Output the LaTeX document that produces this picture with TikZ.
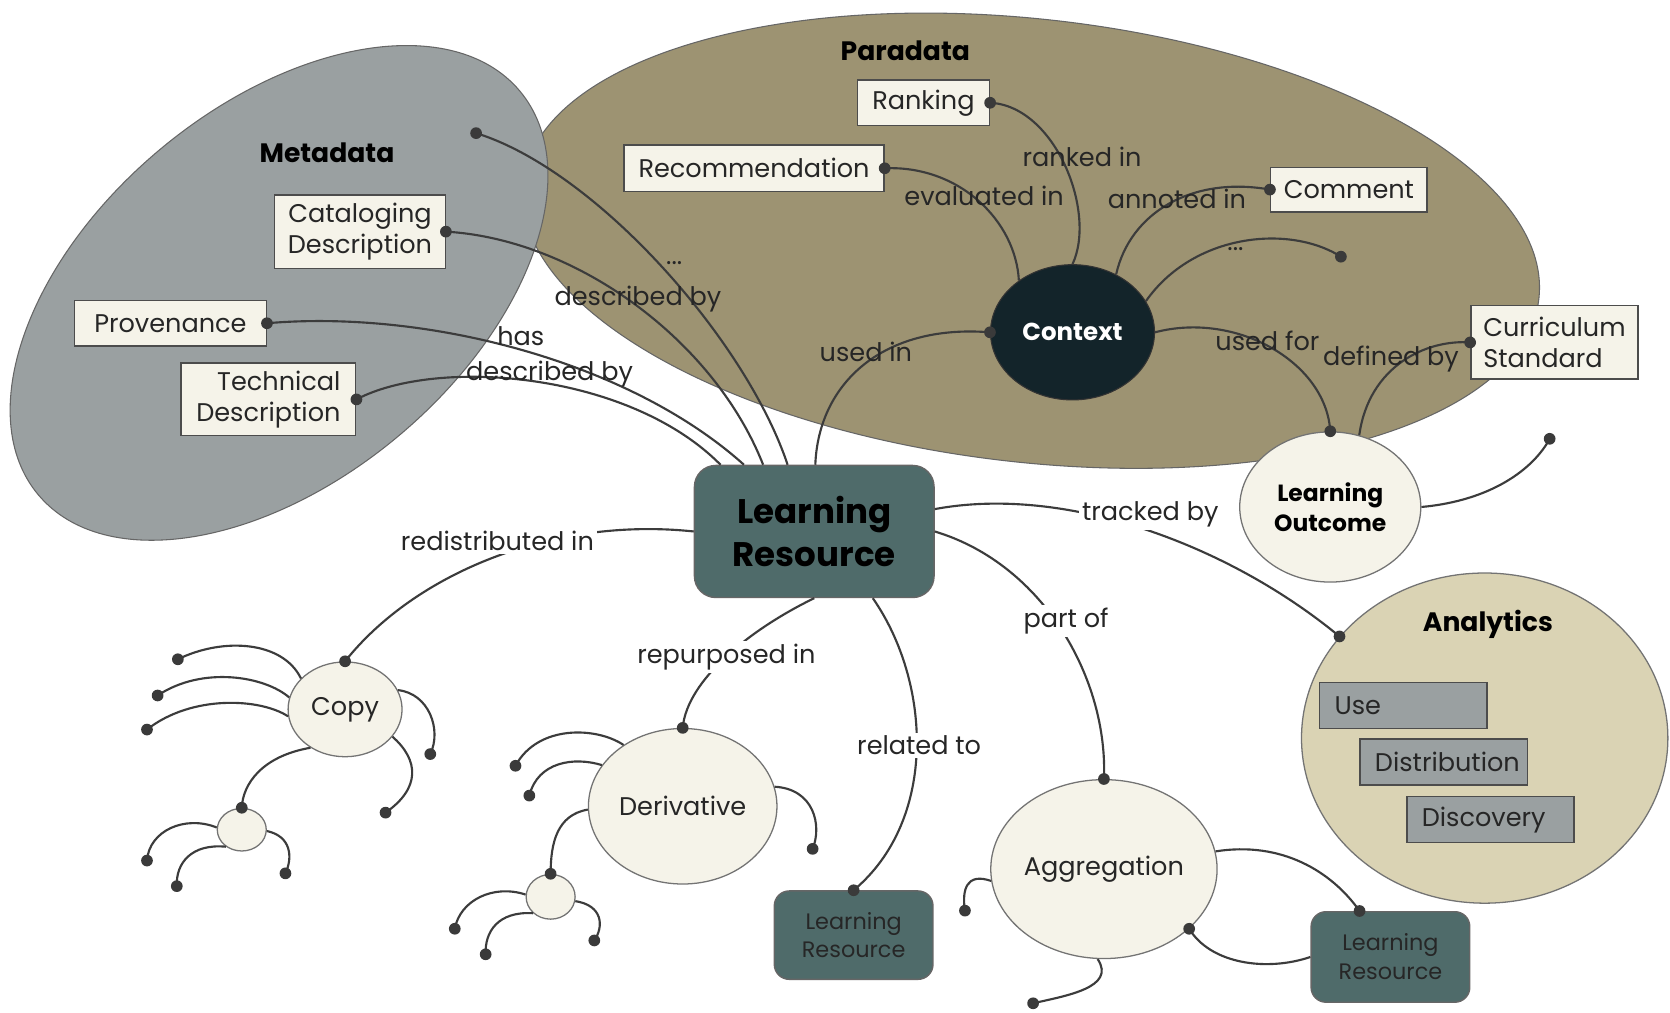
\documentclass[tikz,border=0pt]{standalone}
\usepackage{fontspec}
\setmainfont{Poppins}
\usetikzlibrary{shapes.geometric,calc}
\definecolor{metagray}{HTML}{9AA0A1}
\definecolor{paraolive}{HTML}{9D9372}
\definecolor{anabeige}{HTML}{DAD3B4}
\definecolor{cream}{HTML}{F5F3E9}
\definecolor{lrteal}{HTML}{4F6B6A}
\definecolor{ctxdark}{HTML}{13242A}
\definecolor{linec}{HTML}{3C3C3C}
\definecolor{dotc}{HTML}{3A3A3A}
\begin{document}
\begin{tikzpicture}[x=1pt,y=-1pt,
  every node/.style={font=\fontsize{24}{29}\selectfont, inner sep=0pt},
  cbox/.style={rectangle, draw=black!70, line width=1.3pt, fill=cream, text=black!85},
  gbox/.style={rectangle, draw=black!70, line width=1.3pt, fill=metagray, text=black!85, text width=129pt, inner xsep=14pt, align=left, minimum height=43pt},
  circ/.style={ellipse, draw=black!55, line width=1.2pt, fill=cream, text=black!85},
  lrbox/.style={rectangle, rounded corners=20pt, draw=black!60, line width=1.3pt, fill=lrteal},
  conn/.style={draw=linec, line width=2pt},
  lbl/.style={text=black!85},
  wlbl/.style={text=black!85, fill=white, inner sep=3pt},
  grouptitle/.style={font=\fontsize{25}{30}\selectfont\bfseries},
]
\useasboundingbox (0,0) rectangle (1568,951);
\fill[white] (0,0) rectangle (1568,951);

% group shapes
\node[ellipse, fill=paraolive, draw=black!60, line width=1pt, minimum width=960pt, minimum height=416pt, rotate=-6.5] (para) at (968,226) {};
\node[ellipse, fill=metagray, draw=black!60, line width=1pt, minimum width=590pt, minimum height=350pt, rotate=40] (meta) at (262,275) {};
\node[ellipse, fill=anabeige, draw=black!55, line width=1.2pt, minimum width=344pt, minimum height=310pt] (ana) at (1394,693) {};

\node[grouptitle] (metat) at (307,143) {Metadata};
\node[grouptitle] (parat) at (850,48) {Paradata};
\node[grouptitle] (anat) at (1397,586) {Analytics};

% boxes
\node[cbox, minimum width=160pt, minimum height=69pt, align=center] (catalog) at (338,217.5) {Cataloging\\Description};
\node[cbox, minimum width=180pt, minimum height=43pt] (prov) at (160,303.5) {Provenance};
\node[cbox, minimum width=164pt, minimum height=68pt, align=right] (tech) at (252,375) {Technical\\Description};
\node[cbox, minimum width=124pt, minimum height=43pt] (rank) at (867,96.5) {Ranking};
\node[cbox, minimum width=244pt, minimum height=44pt] (recom) at (708,158) {Recommendation};
\node[cbox, minimum width=147pt, minimum height=42pt] (comment) at (1266.5,178) {Comment};
\node[cbox, minimum width=157pt, minimum height=69pt, align=left] (curric) at (1459.5,321.5) {Curriculum\\Standard};

\node[gbox] (use) at (1317.5,662.5) {Use};
\node[gbox] (distr) at (1355.5,715.5) {Distribution};
\node[gbox] (disc) at (1399.5,769.5) {Discovery};

\node[ellipse, fill=ctxdark, draw=black!80, line width=1pt, minimum width=154pt, minimum height=127pt, text=white, font=\fontsize{23}{28}\selectfont\bfseries] (ctx) at (1007,312) {Context};

\node[lrbox, minimum width=225pt, minimum height=124pt, align=center, font=\fontsize{32}{40}\selectfont\bfseries] (lr) at (764.5,499) {Learning\\Resource};
\node[circ, minimum width=170pt, minimum height=141pt, align=center, text=black, font=\fontsize{22}{28}\selectfont\bfseries] (lo) at (1249,476) {Learning\\Outcome};

\node[circ, minimum width=107pt, minimum height=89pt] (copy) at (324,666) {Copy};
\node[circ, minimum width=46pt, minimum height=40pt] (cch) at (227,779) {};
\node[circ, minimum width=177pt, minimum height=146pt] (der) at (641,757) {Derivative};
\node[circ, minimum width=46pt, minimum height=42pt] (dch) at (517,842) {};
\node[lrbox, rounded corners=14pt, minimum width=149pt, minimum height=83pt, align=center, text=black!85, font=\fontsize{21}{27}\selectfont] (lrs) at (801.5,878) {Learning\\Resource};
\node[circ, minimum width=203pt, minimum height=168pt] (agg) at (1036.5,816) {Aggregation};
\node[lrbox, rounded corners=14pt, minimum width=149pt, minimum height=85pt, align=center, text=black!85, font=\fontsize{21}{27}\selectfont] (lrb) at (1305.5,898.5) {Learning\\Resource};

% free ends
\coordinate (fm) at (447,125);
\coordinate (fp) at (1259,241);
\coordinate (fo) at (1455,412);
\coordinate (a1) at (906,855);
\coordinate (a2) at (970,942);
\coordinate (cl1) at (167,619);
\coordinate (cl2) at (148,653);
\coordinate (cl3) at (138,685);
\coordinate (cl4) at (404,708);
\coordinate (cl5) at (362,763);
\coordinate (ccl1) at (138,808);
\coordinate (ccl2) at (166,832);
\coordinate (ccl3) at (268,820);
\coordinate (dl1) at (484,719);
\coordinate (dl2) at (497,747);
\coordinate (dl3) at (763,797);
\coordinate (dcl1) at (427,872);
\coordinate (dcl2) at (456,896);
\coordinate (dcl3) at (558,883);

% connectors
\draw[conn] (fm) .. controls +(113,35) and +(-39,-117) .. ($(lr.north)+(-25,0)$);
\draw[conn] (catalog.east) .. controls +(122,7) and +(-46,-117) .. ($(lr.north)+(-48,0)$);
\draw[conn] (prov.east) .. controls +(150,-13) and +(-108,-97) .. ($(lr.north)+(-66,0)$);
\draw[conn] (tech.east) .. controls +(76,-40) and +(-86,-87) .. ($(lr.north)+(-88,0)$);
\draw[conn] ($(lr.north)+(1,0)$) .. controls +(3,-77) and +(-100,-8) .. (ctx.west);
\draw[conn] (recom.east) .. controls +(70,-3) and +(-3,-56) .. (ctx.136);
\draw[conn] (rank.east) .. controls +(61,3) and +(23,-49) .. (ctx.north);
\draw[conn] (comment.west) .. controls +(-73,-13) and +(13,-58) .. (ctx.53);
\draw[conn] (fp) .. controls +(-49,-31) and +(44,-63) .. (ctx.23);
\draw[conn] (ctx.east) .. controls +(76,-20) and +(-4,-65) .. (lo.north);
\draw[conn] (lo.68) .. controls +(9,-65) and +(-41,-3) .. (curric.west);
\draw[conn] (lo.east) .. controls +(66,-6) and +(-15,28) .. (fo);
\draw[conn] ($(lr.east)+(0,-21)$) .. controls +(123,-23) and +(-104,-86) .. (ana.145);
\draw[conn] (lr.east) .. controls +(103,31) and +(4,-93) .. (agg.north);
\draw[conn] (lr.south) .. controls +(-60,29) and +(4,-45) .. (der.north);
\draw[conn] ($(lr.south)+(55,0)$) .. controls +(55,79) and +(79,-66) .. (lrs.north);
\draw[conn] (lr.west) .. controls +(-132,-14) and +(66,-83) .. (copy.north);
\draw[conn] (agg.9) .. controls +(62,-10) and +(-26,-37) .. ($(lrb.north)+(-29,0)$);
\draw[conn] (agg.-35) .. controls +(20,33) and +(-41,14) .. (lrb.west);
\draw[conn] (agg.186) .. controls +(-23,-8) and +(-3,-20) .. (a1);
\draw[conn] (agg.266) .. controls +(18,27) and +(30,-7) .. (a2);
% copy legs
\draw[conn] (copy.145) .. controls +(-17,-35) and +(43,-21) .. (cl1);
\draw[conn] (copy.168) .. controls +(-23,-20) and +(42,-28) .. (cl2);
\draw[conn] (copy.187) .. controls +(-26,-17) and +(42,-33) .. (cl3);
\draw[conn] (copy.20) .. controls +(29,3) and +(11,-23) .. (cl4);
\draw[conn] (copy.330) .. controls +(25,22) and +(33,-23) .. (cl5);
\draw[conn] (copy.228) .. controls +(-46,8) and +(1,-22) .. (cch.north);
\draw[conn] (cch.175) .. controls +(-30,-12) and +(2,-28) .. (ccl1);
\draw[conn] (cch.227) .. controls +(-32,-3) and +(-1,-22) .. (ccl2);
\draw[conn] (cch.357) .. controls +(23,5) and +(7,-15) .. (ccl3);
% derivative legs
\draw[conn] (der.134) .. controls +(-25,-17) and +(21,-39) .. (dl1);
\draw[conn] (der.153) .. controls +(-26,-8) and +(8,-32) .. (dl2);
\draw[conn] (der.182) .. controls +(-29,5) and +(0,-29) .. (dch.north);
\draw[conn] (der.12) .. controls +(37,2) and +(9,-22) .. (dl3);
\draw[conn] (dch.175) .. controls +(-30,-10) and +(5,-27) .. (dcl1);
\draw[conn] (dch.223) .. controls +(-33,-2) and +(-1,-21) .. (dcl2);
\draw[conn] (dch.350) .. controls +(26,4) and +(9,-13) .. (dcl3);

% dots
\foreach \p in {fm, catalog.east, prov.east, tech.east, ctx.west, recom.east, rank.east, comment.west, fp, lo.north, curric.west, fo, ana.145, agg.north, der.north, lrs.north, copy.north, agg.-35, a1, a2, cl1, cl2, cl3, cl4, cl5, ccl1, ccl2, ccl3, dl1, dl2, dl3, dcl1, dcl2, dcl3, cch.north, dch.north}
  \fill[dotc] (\p) circle[radius=5.5pt];
\fill[dotc] ($(lrb.north)+(-29,0)$) circle[radius=5.5pt];

% labels
\node[lbl] (l1) at (633,247) {...};
\node[lbl] (l2) at (599,281) {described by};
\node[lbl] (l3) at (489,316) {has};
\node[lbl] (l4) at (516,351) {described by};
\node[lbl] (l5) at (1016,147) {ranked in};
\node[lbl] (l6) at (924,184) {evaluated in};
\node[lbl] (l7) at (1105,187) {annoted in};
\node[lbl] (l8) at (1160,234) {...};
\node[lbl] (l9) at (813,330) {used in};
\node[lbl] (l10) at (1190,320) {used for};
\node[lbl] (l11) at (1306,337) {defined by};
\node[wlbl] (l12) at (467,508) {redistributed in};
\node[wlbl] (l13) at (682,617) {repurposed in};
\node[wlbl] (l14) at (863,700) {related to};
\node[wlbl] (l15) at (1001,583) {part of};
\node[wlbl] (l16) at (1080,483) {tracked by};
\end{tikzpicture}
\end{document}
